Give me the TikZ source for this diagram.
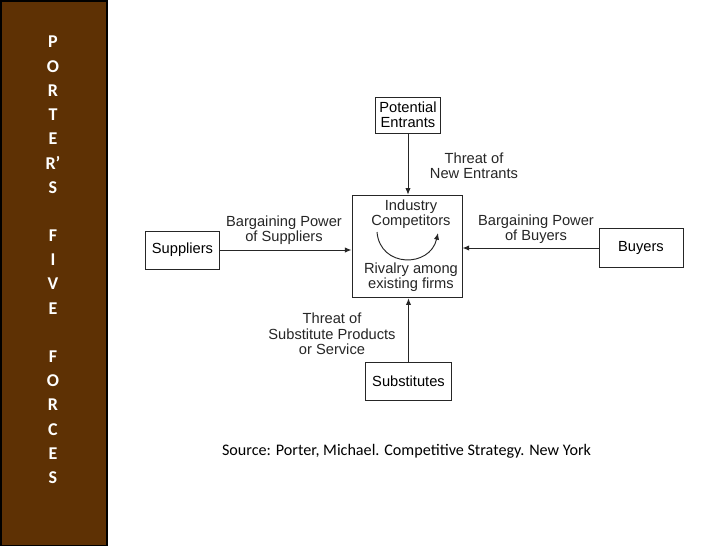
\documentclass[tikz,border=0pt]{standalone}
\usepackage{fontspec}
\setmainfont{Liberation Sans}
\newfontfamily\calibri{Carlito}
\usetikzlibrary{arrows.meta}
\definecolor{barbrown}{RGB}{94,49,4}
\begin{document}
\begin{tikzpicture}[x=0.75pt,y=-0.75pt,
  box/.style={draw=black!85,line width=0.7pt,inner sep=2pt,align=center,font=\fontsize{11}{11.5}\selectfont},
  force/.style={align=center,text=black!85,font=\fontsize{11}{11.5}\selectfont},
  push/.style={draw=black!85,line width=0.7pt,-{Latex[length=5pt,width=4pt]}},
  letter/.style={text=white,font=\calibri\bfseries\fontsize{13.5}{16}\selectfont}]

\useasboundingbox (0,0) rectangle (728,546);
\fill[white] (0,0) rectangle (728,546);
\draw[fill=barbrown,line width=1.5pt] (0.5,0.5) rectangle (107,545.5);

% title down the bar
\foreach \ch [count=\i] in {P,O,R,T,E,R’,S,,F,I,V,E,,F,O,R,C,E,S}
  \node[letter] (l\i) at (53,{42+24.2*(\i-1)}) {\ch};

% the five forces
\node[box,minimum width=48.75pt,minimum height=27pt] (entr) at (408,115) {Potential\\Entrants};
\node[box,minimum width=82.5pt,minimum height=77pt] (comp) at (407,246.5) {};
\node[force] (ind) at (411,214.5) {Industry\\Competitors};
\node[force] (riv) at (411,277.5) {Rivalry among\\existing firms};
\node[box,minimum width=56pt,minimum height=28.5pt] (supp) at (182.5,250) {Suppliers};
\node[box,minimum width=63pt,minimum height=29pt] (buy) at (641,248) {Buyers};
\node[box,minimum width=65pt,minimum height=29pt] (subs) at (408.5,381.5) {Substitutes};

\draw[push] (entr) -- (entr |- comp.north);
\draw[push] (supp) -- (supp -| comp.west);
\draw[push] (buy) -- (buy -| comp.east);
\draw[push] (subs) -- (subs |- comp.south);
\draw[push] (377,232) .. controls (380,268) and (430,268) .. (438,233);

\node[force] (tne) at (474,166) {Threat of\\New Entrants};
\node[force] (bps) at (284,230) {Bargaining Power\\of Suppliers};
\node[force] (bpb) at (536,229) {Bargaining Power\\of Buyers};
\node[force] (tsp) at (332,334) {Threat of\\Substitute Products\\or Service};

\node[font=\calibri\fontsize{12.1}{15}\selectfont] (src) at (406.5,451) {Source: Porter, Michael. Competitive Strategy. New York};
\end{tikzpicture}
\end{document}
